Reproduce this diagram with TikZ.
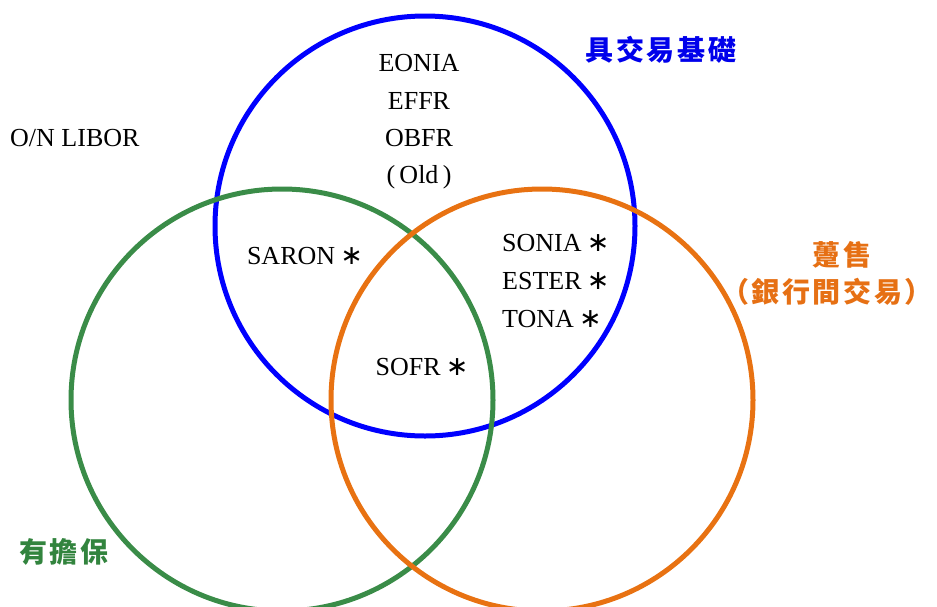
\documentclass[tikz,border=0pt]{standalone}
\usepackage{fontspec}
\setmainfont{Liberation Serif}
\newfontfamily\cjk{Noto Sans CJK TC}[LetterSpace=9]
\newfontfamily\symfnt{DejaVu Sans}
\definecolor{cblue}{RGB}{0,0,255}
\definecolor{cgreen}{RGB}{58,140,72}
\definecolor{corange}{RGB}{232,114,18}
\definecolor{tblue}{RGB}{0,0,235}
\definecolor{tgreen}{RGB}{50,132,62}
\definecolor{torange}{RGB}{230,112,20}
\newcommand{\mystar}{\hspace{0.2em}{\symfnt\fontsize{27}{27}\selectfont ∗}}
\tikzset{
  ring/.style={line width=5pt},
  lbl/.style={inner sep=0pt, font=\fontsize{26}{30}\selectfont},
  cjklbl/.style={inner sep=0pt, font=\fontsize{28}{32}\selectfont\cjk\bfseries}
}
\begin{document}
\begin{tikzpicture}[x=1pt,y=-1pt]
\useasboundingbox (0,0) rectangle (937,606);
\draw[ring, cblue] (425,226) circle[radius=210pt];
\draw[ring, cgreen] (282,400) circle[radius=211pt];
\draw[ring, corange] (542,400) circle[radius=211pt];

\node[cjklbl, text=tblue] (basis) at (661,50) {具交易基礎};
\node[cjklbl, text=torange] (whole) at (842,255) {躉售};
\node[cjklbl, text=torange] (interbank) at (827,292) {（銀行間交易）};
\node[cjklbl, text=tgreen] (secured) at (64,552) {有擔保};

\node[lbl, anchor=base west] (libor) at (10,146) {O/N LIBOR};
\node[lbl, anchor=base] (eonia) at (419,71) {EONIA};
\node[lbl, anchor=base] (effr) at (419,109) {EFFR};
\node[lbl, anchor=base] (obfr) at (419,146) {OBFR};
\node[lbl, anchor=base] (old) at (419,183) {(\,Old\,)};
\node[lbl, anchor=base] (saron) at (305,264) {SARON\mystar};
\node[lbl, anchor=base west] (sonia) at (502,251) {SONIA\mystar};
\node[lbl, anchor=base west] (ester) at (502,289) {ESTER\mystar};
\node[lbl, anchor=base west] (tona) at (502,327) {TONA\mystar};
\node[lbl, anchor=base] (sofr) at (422,375) {SOFR\mystar};
\end{tikzpicture}
\end{document}
